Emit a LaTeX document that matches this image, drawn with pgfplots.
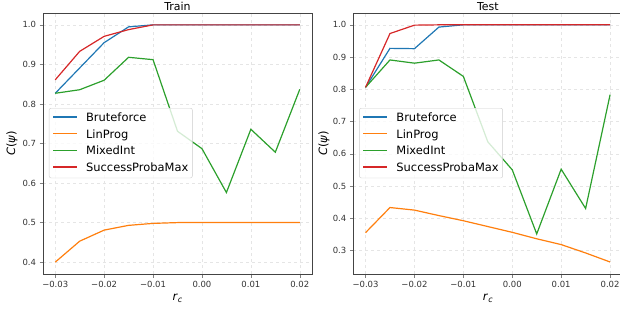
\documentclass[border=0pt]{standalone}
\usepackage{pgfplots}
\pgfplotsset{compat=1.18}
\usepackage{fontspec}
\setmainfont{DejaVu Sans}
\definecolor{tblue}{HTML}{1F77B4}
\definecolor{torange}{HTML}{FF7F0E}
\definecolor{tgreen}{HTML}{2CA02C}
\definecolor{tred}{HTML}{D62728}
\definecolor{spine}{HTML}{444444}
\newcommand{\legline}[1]{\textcolor{#1}{\rule[0.33em]{24bp}{1.2bp}}}
\newcommand{\mylegend}{%
  \node[anchor=north west, fill=white, fill opacity=0.8, text opacity=1,
        draw=black!20, rounded corners=2bp, inner xsep=4bp, inner ysep=1.6bp,
        font=\fontsize{11.5}{16.7}\selectfont]
    at (axis description cs:0.022,0.636)
    {\begin{tabular}{@{}l@{\hspace{9bp}}l@{}}
      \legline{tblue} & Bruteforce\\
      \legline{torange} & LinProg\\
      \legline{tgreen} & MixedInt\\
      \legline{tred} & SuccessProbaMax
     \end{tabular}};}
\pgfplotsset{
  mystyle/.style={
    scale only axis, width=269bp, height=261bp,
    xmin=-0.0325, xmax=0.0225,
    scaled x ticks=false, scaled y ticks=false,
    xtick={-0.03,-0.02,-0.01,0,0.01,0.02},
    xticklabels={−0.03,−0.02,−0.01,0.00,0.01,0.02},
    xtick pos=bottom, ytick pos=left,
    tick align=outside, major tick length=3.5bp,
    axis line style={spine, line width=0.7bp},
    ticklabel style={font=\fontsize{8.5}{10}\selectfont, text=black!80},
    grid=major, major grid style={dashed, black!10, line width=0.4bp},
    title style={font=\fontsize{11}{12}\selectfont, at={(axis description cs:0.5,1)}, anchor=base, yshift=-3bp},
    xlabel={\textit{r}\raisebox{-0.35ex}{\fontsize{8}{9}\selectfont\textit{c}}},
    xlabel style={font=\fontsize{11.5}{12}\selectfont, at={(axis description cs:0.5,0)}, anchor=base, yshift=-26bp},
    ylabel={\textit{C}(\textit{ψ})},
    ylabel style={font=\fontsize{11.5}{12}\selectfont, anchor=center, rotate=0},
  },
}
\begin{document}
\begin{tikzpicture}
\useasboundingbox (0bp,0bp) rectangle (620bp,-309bp);
\begin{axis}[mystyle, at={(43bp,-274bp)}, anchor=south west,
  title={Train}, ymin=0.37, ymax=1.03,
  ytick={0.4,0.5,0.6,0.7,0.8,0.9,1.0},
  yticklabels={0.4,0.5,0.6,0.7,0.8,0.9,1.0},
  ylabel style={at={(axis description cs:-0.115,0.5)}}]
\addplot[draw=tblue, line width=1.2bp] coordinates {(-0.03,0.827) (-0.025,0.891) (-0.02,0.955) (-0.015,0.995) (-0.01,1.0) (-0.005,1.0) (0,1.0) (0.005,1.0) (0.01,1.0) (0.015,1.0) (0.02,1.0)};
\addplot[draw=torange, line width=1.2bp] coordinates {(-0.03,0.400) (-0.025,0.453) (-0.02,0.481) (-0.015,0.493) (-0.01,0.498) (-0.005,0.500) (0,0.500) (0.005,0.500) (0.01,0.500) (0.015,0.500) (0.02,0.500)};
\addplot[draw=tgreen, line width=1.2bp] coordinates {(-0.03,0.827) (-0.025,0.836) (-0.02,0.860) (-0.015,0.918) (-0.01,0.912) (-0.005,0.731) (0,0.687) (0.005,0.576) (0.01,0.736) (0.015,0.678) (0.02,0.837)};
\addplot[draw=tred, line width=1.2bp] coordinates {(-0.03,0.861) (-0.025,0.933) (-0.02,0.971) (-0.015,0.988) (-0.01,1.0) (-0.005,1.0) (0,1.0) (0.005,1.0) (0.01,1.0) (0.015,1.0) (0.02,1.0)};
\mylegend
\end{axis}
\begin{axis}[mystyle, at={(353.3bp,-274bp)}, anchor=south west,
  title={Test}, ymin=0.2267, ymax=1.0367,
  ytick={0.3,0.4,0.5,0.6,0.7,0.8,0.9,1.0},
  yticklabels={0.3,0.4,0.5,0.6,0.7,0.8,0.9,1.0},
  ylabel style={at={(axis description cs:-0.109,0.5)}}]
\addplot[draw=tblue, line width=1.2bp] coordinates {(-0.03,0.806) (-0.025,0.927) (-0.02,0.926) (-0.015,0.993) (-0.01,1.0) (-0.005,1.0) (0,1.0) (0.005,1.0) (0.01,1.0) (0.015,1.0) (0.02,1.0)};
\addplot[draw=torange, line width=1.2bp] coordinates {(-0.03,0.355) (-0.025,0.433) (-0.02,0.425) (-0.015,0.408) (-0.01,0.392) (-0.005,0.374) (0,0.356) (0.005,0.336) (0.01,0.318) (0.015,0.292) (0.02,0.264)};
\addplot[draw=tgreen, line width=1.2bp] coordinates {(-0.03,0.806) (-0.025,0.891) (-0.02,0.881) (-0.015,0.891) (-0.01,0.840) (-0.005,0.637) (0,0.550) (0.005,0.351) (0.01,0.552) (0.015,0.430) (0.02,0.783)};
\addplot[draw=tred, line width=1.2bp] coordinates {(-0.03,0.806) (-0.025,0.973) (-0.02,0.999) (-0.015,1.0) (-0.01,1.0) (-0.005,1.0) (0,1.0) (0.005,1.0) (0.01,1.0) (0.015,1.0) (0.02,1.0)};
\mylegend
\end{axis}
\end{tikzpicture}
\end{document}
